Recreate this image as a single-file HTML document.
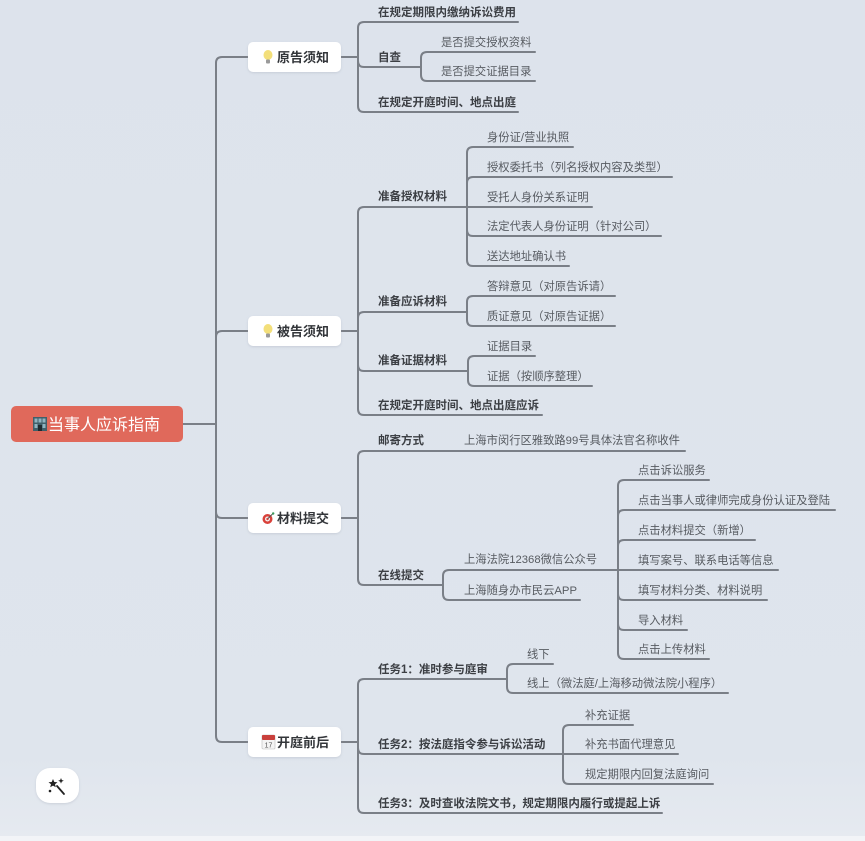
<!DOCTYPE html>
<html><head><meta charset="utf-8"><style>
html,body{margin:0;padding:0;background:#dfe4ec;}
svg{display:block;}
text{font-family:"Liberation Sans","Noto Sans CJK SC",sans-serif;}
.l2{font-size:11.5px;font-weight:bold;fill:#3c3f44;}
.l3{font-size:11.3px;fill:#575b61;}
.n1{font-size:13px;font-weight:bold;fill:#33363a;}
</style></head><body>
<svg width="865" height="841" viewBox="0 0 865 841" xmlns="http://www.w3.org/2000/svg">
<defs>
<linearGradient id="bg" x1="0" y1="0" x2="0" y2="1">
<stop offset="0" stop-color="#dde3ec"/><stop offset="0.9" stop-color="#dfe5ed"/><stop offset="1" stop-color="#e6eaf0"/>
</linearGradient>
<filter id="sh" x="-20%" y="-30%" width="140%" height="160%"><feDropShadow dx="0" dy="1" stdDeviation="1.2" flood-color="#9aa3b0" flood-opacity="0.35"/></filter>
</defs>
<rect width="865" height="841" fill="url(#bg)"/>
<rect y="836" width="865" height="5" fill="#f2f4f7"/>

<g fill="none" stroke="#7a7f87" stroke-width="2" stroke-linecap="round">
<!-- root trunk -->
<path d="M183 424 L216 424"/>
<path d="M216 424 L216 63 Q216 57 222 57 L248 57"/>
<path d="M216 424 L216 337 Q216 331 222 331 L248 331"/>
<path d="M216 424 L216 512 Q216 518 222 518 L248 518"/>
<path d="M216 424 L216 736 Q216 742 222 742 L248 742"/>

<!-- 原告须知 -->
<path d="M341 57 L358 57"/>
<path d="M358 57 L358 28 Q358 22 364 22 L518 22"/>
<path d="M358 57 L358 61 Q358 67 364 67 L421 67"/>
<path d="M358 57 L358 106 Q358 112 364 112 L518 112"/>
<path d="M421 67 L421 58 Q421 52 427 52 L535 52"/>
<path d="M421 67 L421 75 Q421 81 427 81 L535 81"/>

<!-- 被告须知 -->
<path d="M341 331 L358 331"/>
<path d="M358 331 L358 213 Q358 207 364 207 L467 207"/>
<path d="M358 331 L358 318 Q358 312 364 312 L467 312"/>
<path d="M358 331 L358 365 Q358 371 364 371 L468 371"/>
<path d="M358 331 L358 409 Q358 415 364 415 L542 415"/>
<path d="M467 207 L467 153 Q467 147 473 147 L573 147"/>
<path d="M467 207 L467 183 Q467 177 473 177 L672 177"/>
<path d="M467 207 L592 207"/>
<path d="M467 207 L467 230 Q467 236 473 236 L661 236"/>
<path d="M467 207 L467 260 Q467 266 473 266 L569 266"/>
<path d="M467 312 L467 302 Q467 296 473 296 L615 296"/>
<path d="M467 312 L467 320 Q467 326 473 326 L615 326"/>
<path d="M468 371 L468 362 Q468 356 474 356 L535 356"/>
<path d="M468 371 L468 380 Q468 386 474 386 L592 386"/>

<!-- 材料提交 -->
<path d="M341 518 L358 518"/>
<path d="M358 518 L358 457 Q358 451 364 451 L685 451"/>
<path d="M358 518 L358 579 Q358 585 364 585 L443 585"/>
<path d="M443 585 L443 576 Q443 570 449 570 L778 570"/>
<path d="M443 585 L443 594 Q443 600 449 600 L580 600"/>
<path d="M618 570 L618 486 Q618 480 624 480 L709 480"/>
<path d="M618 570 L618 516 Q618 510 624 510 L835 510"/>
<path d="M618 570 L618 546 Q618 540 624 540 L755 540"/>
<path d="M618 570 L618 594 Q618 600 624 600 L767 600"/>
<path d="M618 570 L618 624 Q618 630 624 630 L687 630"/>
<path d="M618 570 L618 653 Q618 659 624 659 L709 659"/>

<!-- 开庭前后 -->
<path d="M341 742 L358 742"/>
<path d="M358 742 L358 685 Q358 679 364 679 L507 679"/>
<path d="M358 742 L358 748 Q358 754 364 754 L563 754"/>
<path d="M358 742 L358 807 Q358 813 364 813 L662 813"/>
<path d="M507 679 L507 670 Q507 664 513 664 L553 664"/>
<path d="M507 679 L507 687 Q507 693 513 693 L728 693"/>
<path d="M563 754 L563 731 Q563 725 569 725 L633 725"/>
<path d="M563 754 L678 754"/>
<path d="M563 754 L563 778 Q563 784 569 784 L713 784"/>
</g>

<!-- root -->
<rect x="11" y="406" width="172" height="36" rx="5" fill="#e0695b"/>
<g transform="translate(33,417)">
<rect x="0" y="0" width="14" height="14" fill="#3f5f6a"/>
<rect x="1.5" y="1.5" width="3" height="4" fill="#8fb3c0"/><rect x="5.5" y="1.5" width="3" height="4" fill="#8fb3c0"/><rect x="9.5" y="1.5" width="3" height="4" fill="#8fb3c0"/>
<rect x="1.5" y="7" width="3" height="4" fill="#8fb3c0"/><rect x="9.5" y="7" width="3" height="4" fill="#8fb3c0"/>
<rect x="5" y="8" width="4" height="6" fill="#1d2a30"/>
</g>
<text x="48" y="430" font-size="16" fill="#ffffff">当事人应诉指南</text>

<!-- level1 nodes -->
<g filter="url(#sh)" fill="#ffffff">
<rect x="248" y="42" width="93" height="30" rx="5"/>
<rect x="248" y="316" width="93" height="30" rx="5"/>
<rect x="248" y="503" width="93" height="30" rx="5"/>
<rect x="248" y="727" width="93" height="30" rx="5"/>
<rect x="36" y="768" width="43" height="35" rx="14"/>
</g>

<!-- bulb icons -->
<g transform="translate(263,50)">
<ellipse cx="5" cy="5" rx="4.5" ry="5" fill="#f3df7a"/>
<rect x="3" y="9.5" width="4" height="4" rx="1" fill="#9a9a9a"/>
</g>
<text x="277" y="62" class="n1">原告须知</text>
<g transform="translate(263,324)">
<ellipse cx="5" cy="5" rx="4.5" ry="5" fill="#f3df7a"/>
<rect x="3" y="9.5" width="4" height="4" rx="1" fill="#9a9a9a"/>
</g>
<text x="277" y="336" class="n1">被告须知</text>
<!-- target icon -->
<g transform="translate(262,512)">
<circle cx="5.5" cy="7" r="5" fill="#d9413a"/>
<circle cx="5.5" cy="7" r="2.5" fill="#f2f2f2"/>
<circle cx="5.5" cy="7" r="1.2" fill="#d9413a"/>
<line x1="6" y1="6.5" x2="11" y2="1.5" stroke="#555" stroke-width="1"/>
<circle cx="11.2" cy="1.5" r="1.2" fill="#3a9a5a"/>
</g>
<text x="277" y="523" class="n1">材料提交</text>
<!-- calendar icon -->
<g transform="translate(262,735)">
<rect x="0" y="0" width="13" height="14" rx="1" fill="#f4f4f4" stroke="#bbb" stroke-width="0.6"/>
<rect x="0" y="0" width="13" height="5" rx="1" fill="#c9403c"/>
<text x="6.5" y="12.5" font-size="7" text-anchor="middle" fill="#555">17</text>
</g>
<text x="277" y="747" class="n1">开庭前后</text>

<!-- magic wand -->
<g stroke="#222" stroke-linecap="round">
<line x1="57" y1="786" x2="64" y2="794" stroke-width="1.8"/>
</g>
<g fill="#222">
<polygon points="53,779 54.3,782 57.5,782.2 55,784.2 55.8,787.3 53,785.6 50.2,787.3 51,784.2 48.5,782.2 51.7,782"/>
<path d="M61 778 l0.8 2 2 0.8 -2 0.8 -0.8 2 -0.8 -2 -2 -0.8 2 -0.8z"/>
<circle cx="50" cy="791" r="1.3"/>
</g>

<!-- 原告须知 children -->
<text x="378" y="16" class="l2">在规定期限内缴纳诉讼费用</text>
<text x="378" y="61" class="l2">自查</text>
<text x="441" y="46" class="l3">是否提交授权资料</text>
<text x="441" y="75" class="l3">是否提交证据目录</text>
<text x="378" y="106" class="l2">在规定开庭时间、地点出庭</text>

<!-- 被告须知 children -->
<text x="378" y="200" class="l2">准备授权材料</text>
<text x="487" y="141" class="l3">身份证/营业执照</text>
<text x="487" y="171" class="l3">授权委托书（列名授权内容及类型）</text>
<text x="487" y="201" class="l3">受托人身份关系证明</text>
<text x="487" y="230" class="l3">法定代表人身份证明（针对公司）</text>
<text x="487" y="260" class="l3">送达地址确认书</text>
<text x="378" y="305" class="l2">准备应诉材料</text>
<text x="487" y="290" class="l3">答辩意见（对原告诉请）</text>
<text x="487" y="320" class="l3">质证意见（对原告证据）</text>
<text x="378" y="364" class="l2">准备证据材料</text>
<text x="487" y="350" class="l3">证据目录</text>
<text x="487" y="380" class="l3">证据（按顺序整理）</text>
<text x="378" y="409" class="l2">在规定开庭时间、地点出庭应诉</text>

<!-- 材料提交 children -->
<text x="378" y="444" class="l2">邮寄方式</text>
<text x="464" y="444" class="l3">上海市闵行区雅致路99号具体法官名称收件</text>
<text x="378" y="579" class="l2">在线提交</text>
<text x="464" y="563" class="l3">上海法院12368微信公众号</text>
<text x="464" y="594" class="l3">上海随身办市民云APP</text>
<text x="638" y="474" class="l3">点击诉讼服务</text>
<text x="638" y="504" class="l3">点击当事人或律师完成身份认证及登陆</text>
<text x="638" y="534" class="l3">点击材料提交（新增）</text>
<text x="638" y="564" class="l3">填写案号、联系电话等信息</text>
<text x="638" y="594" class="l3">填写材料分类、材料说明</text>
<text x="638" y="624" class="l3">导入材料</text>
<text x="638" y="653" class="l3">点击上传材料</text>

<!-- 开庭前后 children -->
<text x="378" y="673" class="l2">任务1：准时参与庭审</text>
<text x="527" y="658" class="l3">线下</text>
<text x="527" y="687" class="l3">线上（微法庭/上海移动微法院小程序）</text>
<text x="378" y="748" class="l2">任务2：按法庭指令参与诉讼活动</text>
<text x="585" y="719" class="l3">补充证据</text>
<text x="585" y="748" class="l3">补充书面代理意见</text>
<text x="585" y="778" class="l3">规定期限内回复法庭询问</text>
<text x="378" y="807" class="l2">任务3：及时查收法院文书，规定期限内履行或提起上诉</text>
</svg>
</body></html>
